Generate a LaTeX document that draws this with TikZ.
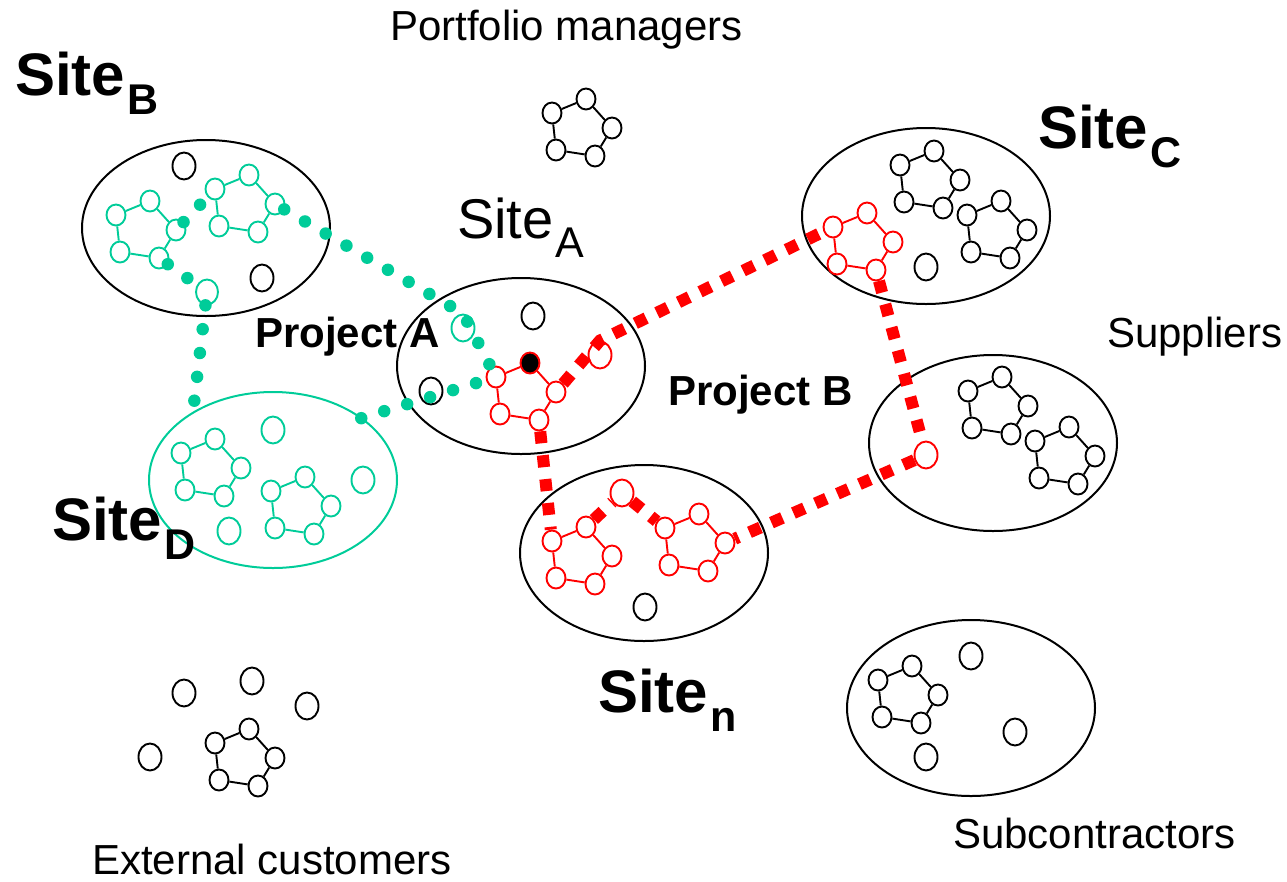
\documentclass[tikz,border=0pt]{standalone}
\usepackage{fontspec}
\setmainfont{Liberation Sans}
\usetikzlibrary{shapes.geometric}
\definecolor{sea}{RGB}{0,204,153}
\definecolor{pure red}{RGB}{255,0,0}

\tikzset{
  area/.style={draw=black, ellipse, line width=2pt, minimum width=248pt,
    minimum height=176pt, inner sep=0pt, outer sep=0pt},
  dotnode/.style={draw, ellipse, line width=1.9pt, minimum width=19pt,
    minimum height=21pt, inner sep=0pt, fill=white},
  bignode/.style={dotnode, minimum width=23pt, minimum height=27pt},
  link/.style={line width=1.9pt},
  tealdots/.style={draw=sea, line width=12.5pt, line cap=round,
    dash pattern=on 0pt off 24pt},
  redsquares/.style={draw=pure red, line width=12pt,
    dash pattern=on 12pt off 12pt},
  plain/.style={font=\fontsize{42}{42}\selectfont, anchor=base west, inner sep=0pt},
  bold/.style={font=\fontsize{42}{42}\selectfont\bfseries, anchor=base west, inner sep=0pt},
  sitebold/.style={font=\fontsize{60}{60}\selectfont\bfseries, anchor=base west, inner sep=0pt},
  siteplain/.style={font=\fontsize{56}{56}\selectfont, anchor=base west, inner sep=0pt},
}

% five linked nodes forming a small ring; #1 = extra style for the top node
\newcommand\ring[5][]{%
  \begin{scope}[shift={(#3,#4)}]
    \node[dotnode, draw=#5] (#2-1) at (-28,-16) {};
    \node[dotnode, draw=#5, #1] (#2-2) at (6,-30) {};
    \node[dotnode, draw=#5] (#2-3) at (32,-1) {};
    \node[dotnode, draw=#5] (#2-4) at (15,27) {};
    \node[dotnode, draw=#5] (#2-5) at (-24,21) {};
    \draw[link, #5] (#2-1) -- (#2-2) -- (#2-3) -- (#2-4) -- (#2-5) -- (#2-1);
  \end{scope}}

\newcommand\sitesub[1]{Site\kern2pt\raisebox{-19pt}{\fontsize{43}{43}\selectfont #1}}

\begin{document}
\begin{tikzpicture}[x=1pt, y=-1pt]
  \useasboundingbox (0,0) rectangle (1287,881);

  % site outlines
  \node[area] (siteB) at (206,228) {};
  \node[area] (siteA) at (521,366) {};
  \node[area] (siteC) at (926,216) {};
  \node[area] (supp)  at (993,443) {};
  \node[area] (siten) at (644,553) {};
  \node[area, draw=sea] (siteD) at (273,480) {};
  \node[area] (subc)  at (971,708) {};

  % labels
  \node[plain] (tPort) at (390,40) {Portfolio managers};
  \node[sitebold] (tB) at (15,95) {\sitesub{B}};
  \node[siteplain] (tA) at (457,238) {\sitesub{A}};
  \node[sitebold] (tC) at (1038,148) {\sitesub{C}};
  \node[bold] (tPA) at (255,347) {Project A};
  \node[bold] (tPB) at (668,405) {Project B};
  \node[plain] (tSup) at (1107,347) {Suppliers};
  \node[sitebold] (tD) at (52,540) {\sitesub{D}};
  \node[sitebold] (tn) at (598,712) {\sitesub{n}};
  \node[plain] (tSub) at (953,848) {Subcontractors};
  \node[plain] (tExt) at (92,874) {External customers};

  % portfolio managers
  \ring{P}{580}{129}{black}

  % site B
  \node[bignode] (b1) at (184,166) {};
  \node[bignode] (b2) at (262,278) {};
  \node[bignode, draw=sea, minimum width=22pt, minimum height=25pt] (bt) at (207,292) {};
  \ring{B1}{144}{231}{sea}
  \ring{B2}{243}{205}{sea}

  % site A
  \node[bignode] (a1) at (533,316) {};
  \node[bignode] (a2) at (431,391) {};
  \node[bignode, draw=sea] (at) at (463,328) {};
  \node[bignode, draw=pure red] (ar) at (600,355) {};
  \ring[fill=black]{A}{524}{393}{pure red}

  % site C
  \ring{C1}{928}{181}{black}
  \ring{C2}{995}{231}{black}
  \ring{Cr}{861}{243}{pure red}
  \node[bignode] (c1) at (926,267) {};

  % suppliers
  \ring{S1}{996}{407}{black}
  \ring{S2}{1063}{457}{black}
  \node[bignode, draw=pure red] (sr) at (926,455) {};

  % site n
  \ring{N1}{580}{557}{pure red}
  \ring{N2}{693}{544}{pure red}
  \node[bignode, draw=pure red] (nr) at (622,493) {};
  \node[bignode] (n1) at (645,607) {};

  % site D
  \ring{D1}{209}{469}{sea}
  \ring{D2}{299}{507}{sea}
  \node[bignode, draw=sea] (d1) at (273,430) {};
  \node[bignode, draw=sea] (d2) at (363,480) {};
  \node[bignode, draw=sea] (d3) at (229,531) {};

  % external customers
  \ring{E}{243}{759}{black}
  \node[bignode] (e1) at (184,693) {};
  \node[bignode] (e2) at (252,681) {};
  \node[bignode] (e3) at (307,706) {};
  \node[bignode] (e4) at (150,757) {};

  % subcontractors
  \ring{U}{906}{696}{black}
  \node[bignode] (u1) at (971,656) {};
  \node[bignode] (u2) at (1015,732) {};
  \node[bignode] (u3) at (926,757) {};

  % project A links
  \draw[tealdots] (B2-3) -- (at.north) -- (A-1);
  \draw[tealdots] (B1-3) -- (B2-1);
  \draw[tealdots] (B1-4) -- (bt) -- (siteD.140);
  \draw[tealdots] (siteD.35) -- (A-1);

  % project B links
  \draw[redsquares] (A-3) -- (ar.north) -- (Cr-1);
  \draw[redsquares] (Cr-4) -- (sr);
  \draw[redsquares] (sr) -- (N2-3);
  \draw[redsquares] (A-4) -- (N1-1);
  \draw[redsquares] (N1-2) -- (nr) -- (N2-1);
\end{tikzpicture}
\end{document}
